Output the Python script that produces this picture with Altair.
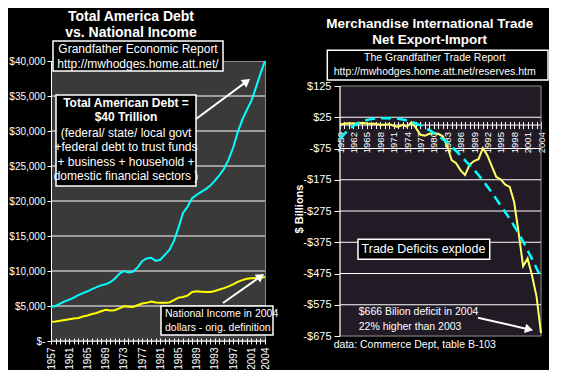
import math
import altair as alt
import pandas as pd

FONT = "Liberation Sans"

# ---------------- Left panel data ----------------
years_debt = list(range(1957, 2005))
debt = [4850, 5000, 5350, 5650, 5900, 6200, 6550, 6850, 7100, 7400,
        7700, 7950, 8100, 8400, 8900, 9600, 10000, 9800, 9900, 10500,
        11400, 11800, 11900, 11450, 11600, 12300, 13000, 14300, 16200, 18300,
        19200, 20400, 20900, 21300, 21700, 22200, 22900, 23700, 24600, 25900,
        27600, 29800, 31600, 33000, 34300, 36200, 38200, 40000]
income = [2750, 2800, 2900, 3000, 3100, 3200, 3300, 3500, 3650, 3850,
          4000, 4250, 4450, 4350, 4400, 4650, 4950, 4900, 4850, 5100,
          5350, 5450, 5650, 5500, 5450, 5450, 5500, 5850, 6200, 6300,
          6500, 7000, 7100, 7050, 7000, 7000, 7150, 7350, 7550, 7800,
          8100, 8450, 8700, 8900, 8950, 9000, 9050, 9150]
debt_ticks = [0, 5000, 10000, 15000, 20000, 25000, 30000, 35000, 40000]
debt_grid = [5000, 10000, 15000, 20000, 25000, 30000, 35000]

# ---------------- Right panel data ----------------
years_trade = list(range(1959, 2005))
trade = [1, 5, 6, 5, 5, 7, 5, 4, 4, 1,
         1, 3, -2, -6, 1, -5, 9, -9, -31, -34,
         -28, -26, -28, -36, -67, -112, -122, -145, -160, -127,
         -115, -109, -74, -97, -132, -166, -174, -191, -198, -247,
         -346, -452, -427, -482, -548, -666]
trend = [-45, -28, -14, -3, 6, 12, 16, 19, 21, 22,
         22, 22, 21, 20, 18, 15, 11, 5, -1, -8,
         -16, -25, -35, -45, -56, -69, -83, -98, -113, -128,
         -143, -160, -178, -197, -216, -237, -258, -279, -300, -323,
         -347, -373, -401, -429, -458, -488]
trade_ticks = [125, 25, -75, -175, -275, -375, -475, -575, -675]
trade_grid = [25, -75, -175, -275, -375, -475, -575]

# text content
left_title = ["Total America Debt", "vs. National Income"]
left_box1 = ["Grandfather Economic Report", "http://mwhodges.home.att.net/"]
left_box2_bold = ["Total American Debt =", "$40 Trillion"]
left_box2 = ["(federal/ state/ local govt", "+federal debt to trust funds",
             "+ business + household +", "domestic financial sectors )"]
left_box3 = ["National Income in 2004", "dollars - orig. definition"]
right_title = ["Merchandise International Trade", "Net Export-Import"]
right_box1 = ["The Grandfather Trade Report", "http://mwhodges.home.att.net/reserves.htm"]
right_box2 = "Trade Deficits explode"
right_note = ["$666 Bilion deficit in 2004", "22% higher than 2003"]
right_source = "data: Commerce Dept, table B-103"

WL, HL = 214, 280
WR, HR = 201, 275
BG_L = "#3a3a3a"
BG_R = "#221b26"
BORDER = "#8c8c8c"

one = pd.DataFrame({"k": [0]})


def text(s, x, y, size=12, bold=False, align="center", angle=0):
    kw = dict(text=s, fontSize=size, fontWeight="bold" if bold else "normal",
              align=align, baseline="middle", color="white", font=FONT)
    if angle:
        kw["angle"] = angle
    return alt.Chart(one).mark_text(**kw).encode(x=alt.value(x), y=alt.value(y))


def box(x1, y1, x2, y2):
    return alt.Chart(one).mark_rect(fill="black", stroke="white", strokeWidth=1.5).encode(
        x=alt.value(x1), x2=alt.value(x2), y=alt.value(y1), y2=alt.value(y2))


def arrow(x1, y1, x2, y2):
    dx, dy = x2 - x1, y2 - y1
    L = math.hypot(dx, dy)
    ux, uy = dx / L, dy / L
    cx, cy = x2 - 4 * ux, y2 - 4 * uy
    ang = math.degrees(math.atan2(dx, -dy)) % 360
    shaft = alt.Chart(one).mark_rule(color="white", strokeWidth=2).encode(
        x=alt.value(x1), y=alt.value(y1), x2=alt.value(cx), y2=alt.value(cy))
    head = alt.Chart(one).mark_point(shape="triangle-up", filled=True, color="white",
                                     size=90, angle=ang, opacity=1).encode(
        x=alt.value(cx), y=alt.value(cy))
    return [shaft, head]


def spacer(x, y):
    return alt.Chart(one).mark_rect(color="black").encode(
        x=alt.value(x), x2=alt.value(x + 1), y=alt.value(y), y2=alt.value(y + 1))


# ---------------- Left panel ----------------
xs_l = alt.Scale(domain=[1957, 2004], nice=False, zero=False)
ys_l = alt.Scale(domain=[0, 40000], nice=False, zero=False)
df_l = pd.DataFrame({"year": years_debt, "debt": debt, "income": income})

nbsp = "\u00a0" * 12
xaxis_l = alt.Axis(values=years_debt, format="d",
                   labelExpr="((datum.value - 1957) % 4 == 0 || datum.value == 2004) ? datum.label : ''",
                   labelAngle=270, labelFontSize=10, labelColor="white", tickColor="white",
                   tickSize=6, offset=-3, domain=False, grid=False, title=None, labelPadding=3,
                   labelOverlap=False, labelFlush=False, labelBound=False)
yaxis_l = alt.Axis(values=debt_ticks,
                   labelExpr="datum.value == 0 ? '$-" + nbsp + "' : '$' + format(datum.value, ',')",
                   labelFontSize=10, labelColor="white", tickColor="white", tickSize=4,
                   labelPadding=2, domainColor="white", grid=False, title=None, labelOverlap=False)

grid_l = alt.Chart(pd.DataFrame({"g": debt_grid})).mark_rule(color="white", strokeWidth=1).encode(
    y=alt.Y("g:Q", scale=ys_l, axis=yaxis_l))
debt_line = alt.Chart(df_l).mark_line(color="#00FFFF", strokeWidth=2).encode(
    x=alt.X("year:Q", scale=xs_l, axis=xaxis_l), y=alt.Y("debt:Q", scale=ys_l, axis=yaxis_l))
inc_line = alt.Chart(df_l).mark_line(color="#FFFF00", strokeWidth=2).encode(
    x=alt.X("year:Q", scale=xs_l, axis=xaxis_l), y=alt.Y("income:Q", scale=ys_l, axis=yaxis_l))
bottom_l = alt.Chart(one).mark_rule(color="white", strokeWidth=1).encode(
    x=alt.value(0), x2=alt.value(WL), y=alt.YDatum(0, scale=ys_l, axis=yaxis_l))

left_layers = [grid_l, debt_line, inc_line, bottom_l,
               text(left_title[0], 80, -44, 14, True), text(left_title[1], 80, -28, 14, True),
               box(2, -20, 172, 10),
               text(left_box1[0], 87, -12.5, 12), text(left_box1[1], 87, 3, 12),
               box(5, 34, 145, 125),
               text(left_box2_bold[0], 75, 42, 12, True), text(left_box2_bold[1], 75, 56, 12, True),
               text(left_box2[0], 75, 71.5, 12), text(left_box2[1], 75, 86, 12),
               text(left_box2[2], 75, 100.5, 12), text(left_box2[3], 75, 115, 12),
               box(110, 245, 222, 274),
               text(left_box3[0], 114, 252.5, 10.5, align="left"),
               text(left_box3[1], 114, 267, 10.5, align="left"),
               *arrow(145, 58, 199, 18),
               *arrow(172, 242, 213, 213),
               spacer(-42, -52), spacer(228, -52)]
left = alt.layer(*left_layers).properties(
    width=WL, height=HL, view=alt.ViewBackground(fill=BG_L, stroke=BORDER, strokeWidth=1))

# ---------------- Right panel ----------------
xs_r = alt.Scale(domain=[1959, 2004], nice=False, zero=False)
ys_r = alt.Scale(domain=[-675, 205], nice=False, zero=False)
df_r = pd.DataFrame({"year": years_trade, "trade": trade, "trend": trend})

y0 = 205 / 880 * HR
xaxis_r = alt.Axis(values=years_trade, format="d",
                   labelExpr="((datum.value - 1959) % 3 == 0) ? datum.label : ''",
                   labelAngle=270, labelFontSize=9.5, labelColor="white", tickColor="white",
                   tickSize=7, offset=-(HR - (y0 - 3.5)), domain=False, grid=False, title=None,
                   labelPadding=3, labelOverlap=False, labelFlush=False, labelBound=False)
yaxis_r = alt.Axis(values=trade_ticks,
                   labelExpr="datum.value < 0 ? '-$' + abs(datum.value) : '$' + datum.value",
                   labelFontSize=11, labelColor="white", tickColor="white", tickSize=6,
                   labelPadding=3, domain=False, grid=False, title=None, labelOverlap=False)

# black strip above the $125 line (view fill covers the whole plot group)
strip_r = alt.Chart(one).mark_rect(fill="black").encode(
    x=alt.value(-0.5), x2=alt.value(WR + 0.5),
    y=alt.YDatum(205, scale=ys_r, axis=yaxis_r), y2=alt.Y2Datum(125))
border_r = alt.Chart(one).mark_rect(fillOpacity=0, stroke=BORDER, strokeWidth=1).encode(
    x=alt.value(0), x2=alt.value(WR),
    y=alt.YDatum(125, scale=ys_r, axis=yaxis_r), y2=alt.Y2Datum(-675))
grid_r = alt.Chart(pd.DataFrame({"g": trade_grid})).mark_rule(color="white", strokeWidth=1).encode(
    y=alt.Y("g:Q", scale=ys_r, axis=yaxis_r))
zero_r = alt.Chart(one).mark_rule(color="white", strokeWidth=1).encode(
    x=alt.value(0), x2=alt.value(WR), y=alt.YDatum(0, scale=ys_r, axis=yaxis_r))
left_r = alt.Chart(one).mark_rule(color="white", strokeWidth=1).encode(
    x=alt.value(0), y=alt.YDatum(125, scale=ys_r, axis=yaxis_r), y2=alt.Y2Datum(-675))
trade_line = alt.Chart(df_r).mark_line(color="#FFFF66", strokeWidth=2).encode(
    x=alt.X("year:Q", scale=xs_r, axis=xaxis_r), y=alt.Y("trade:Q", scale=ys_r, axis=yaxis_r))
trend_line = alt.Chart(df_r).mark_line(color="#00FFFF", strokeWidth=2.5, strokeDash=[10, 6]).encode(
    x=alt.X("year:Q", scale=xs_r, axis=xaxis_r), y=alt.Y("trend:Q", scale=ys_r, axis=yaxis_r))

right_layers = [strip_r, border_r, grid_r, zero_r, left_r, trade_line, trend_line,
                text(right_title[0], 89.7, -37, 13.5, True), text(right_title[1], 89.7, -21, 13.5, True),
                box(-12.7, -10.7, 208, 19),
                text(right_box1[0], 94.7, -2.7, 10.5), text(right_box1[1], 94.7, 11, 10.5),
                box(18, 178.3, 149.7, 198.3),
                text(right_box2, 83.5, 188.3, 12.5),
                text(right_note[0], 18.7, 251, 10.5, align="left"),
                text(right_note[1], 18.7, 266, 10.5, align="left"),
                *arrow(138, 256.7, 193, 269.3),
                text(right_source, -6.3, 284, 10.5, align="left"),
                text("$ Billions", -40, 208 - 60, 11, True, angle=270),
                spacer(-47, -52)]
right = alt.layer(*right_layers).properties(
    width=WR, height=HR, view=alt.ViewBackground(fill=BG_R, strokeOpacity=0))

chart = alt.hconcat(left, right, spacing=12).properties(
    background="black", padding=0).configure(font=FONT)

chart.save("out.html", embed_options={"renderer": "svg", "actions": False})
